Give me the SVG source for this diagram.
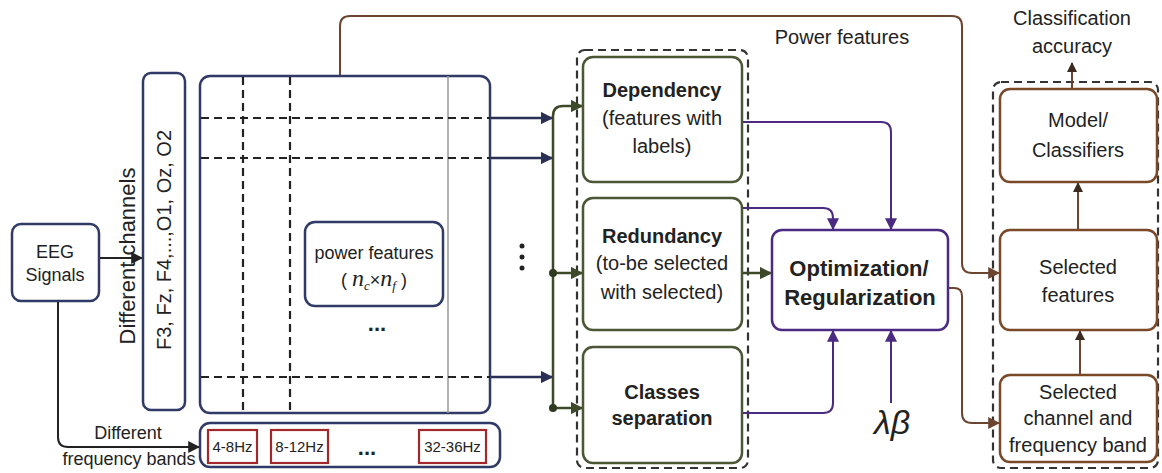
<svg xmlns="http://www.w3.org/2000/svg" width="1162" height="473" viewBox="0 0 1162 473">
<defs>
<style>
text{font-family:"Liberation Sans",Arial,sans-serif;fill:#222;text-anchor:middle}
.b{font-weight:bold}
.navy{fill:#fff;stroke:#2f3a66;stroke-width:2.5}
.green{fill:#fff;stroke:#4a5634;stroke-width:2.5}
.purple{fill:#fff;stroke:#4b2a82;stroke-width:2.5}
.brown{fill:#fff;stroke:#7a4a28;stroke-width:2.5}
.red{fill:#fff;stroke:#a3282c;stroke-width:2.2}
.grp{fill:none;stroke:#333;stroke-width:2.2;stroke-dasharray:8 5}
.dash{fill:none;stroke:#222;stroke-width:2.2;stroke-dasharray:8 5}
.cn{fill:none;stroke:#2a2f55;stroke-width:2.5}
.cg{fill:none;stroke:#3d4a2a;stroke-width:2.5}
.cp{fill:none;stroke:#4b2a82;stroke-width:2}
.cb{fill:none;stroke:#6b4530;stroke-width:2}
.ck{fill:none;stroke:#222;stroke-width:2}
</style>
<marker id="an" viewBox="0 0 10 10" refX="9" refY="5" markerWidth="5" markerHeight="5" orient="auto"><path d="M0,0L10,5L0,10z" fill="#2a2f55"/></marker>
<marker id="ag" viewBox="0 0 10 10" refX="9" refY="5" markerWidth="5" markerHeight="5" orient="auto"><path d="M0,0L10,5L0,10z" fill="#3d4a2a"/></marker>
<marker id="ap" viewBox="0 0 10 10" refX="9" refY="5" markerWidth="6" markerHeight="6" orient="auto"><path d="M0,0L10,5L0,10z" fill="#4b2a82"/></marker>
<marker id="ab" viewBox="0 0 10 10" refX="9" refY="5" markerWidth="6" markerHeight="6" orient="auto"><path d="M0,0L10,5L0,10z" fill="#6b4530"/></marker>
<marker id="ak" viewBox="0 0 10 10" refX="9" refY="5" markerWidth="6" markerHeight="6" orient="auto"><path d="M0,0L10,5L0,10z" fill="#222"/></marker>
<marker id="ad" viewBox="0 0 10 10" refX="9" refY="5" markerWidth="5" markerHeight="5" orient="auto"><path d="M0,0L10,5L0,10z" fill="#3a2a20"/></marker>
</defs>
<rect width="1162" height="473" fill="#fff"/>

<g id="groups">
<rect class="grp" x="577" y="50" width="171" height="418" rx="8"/>
<rect class="grp" x="993" y="82" width="165" height="386" rx="8"/>
</g>

<g id="connectors">
<path class="ck" d="M99,258H142" marker-end="url(#ak)"/>
<path class="ck" d="M58,301V437Q58,447 68,447H199" marker-end="url(#ak)"/>
<path class="cn" d="M490,118H552" marker-end="url(#an)"/>
<path class="cn" d="M490,158H552" marker-end="url(#an)"/>
<path class="cn" d="M490,377H552" marker-end="url(#an)"/>
<path class="cg" d="M553,408V116Q553,106 563,106H582" marker-end="url(#ag)"/>
<path class="cg" d="M553,273H582" marker-end="url(#ag)"/>
<path class="cg" d="M553,408H582" marker-end="url(#ag)"/>
<circle cx="553" cy="273" r="4" fill="#2f3a20"/>
<circle cx="553" cy="408" r="4" fill="#2f3a20"/>
<path class="cg" d="M742,273H771" stroke-width="3" marker-end="url(#ag)"/>
<path class="cp" d="M742,122H881Q891,122 891,132V229" marker-end="url(#ap)"/>
<path class="cp" d="M742,208H823Q833,208 833,218V229" marker-end="url(#ap)"/>
<path class="cp" d="M742,413H823Q833,413 833,403V331" marker-end="url(#ap)"/>
<path class="cp" d="M891,403V331" marker-end="url(#ap)"/>
<path class="cb" d="M340,76V26Q340,16 350,16H952Q962,16 962,26V263Q962,273 972,273H999" marker-end="url(#ab)"/>
<path class="cb" d="M948,288H954Q962,288 962,296V413Q962,423 972,423H999" marker-end="url(#ab)"/>
<path class="cb" d="M1080,375V331" stroke="#3a2a20" stroke-width="3" marker-end="url(#ad)"/>
<path class="cb" d="M1078,230V183" stroke="#3a2a20" stroke-width="3" marker-end="url(#ad)"/>
<path class="cb" d="M1072,89V63" stroke="#3a2a20" stroke-width="3" marker-end="url(#ad)"/>
</g>

<g id="eeg">
<rect class="navy" x="12" y="224" width="87" height="77" rx="9"/>
<text x="55" y="258" font-size="18">EEG</text>
<text x="55" y="281" font-size="18">Signals</text>
</g>

<g id="channels-label">
<text transform="translate(135,256) rotate(-90)" font-size="22">Different channels</text>
</g>

<g id="channels">
<rect class="navy" x="143" y="73" width="42" height="337" rx="8"/>
<text transform="translate(171,240) rotate(-90)" font-size="20">F3, Fz, F4,...,O1, Oz, O2</text>
</g>

<g id="matrix">
<rect class="navy" x="200" y="76" width="290" height="337" rx="10"/>
<line x1="448" y1="76" x2="448" y2="413" stroke="#999" stroke-width="1.5"/>
<line class="dash" x1="243" y1="77" x2="243" y2="412"/>
<line class="dash" x1="290" y1="77" x2="290" y2="412"/>
<line class="dash" x1="201" y1="118" x2="490" y2="118"/>
<line class="dash" x1="201" y1="158" x2="490" y2="158"/>
<line class="dash" x1="201" y1="377" x2="490" y2="377"/>
<text x="377" y="331" font-size="22" font-weight="bold">...</text>
</g>

<g id="power-features">
<rect class="navy" x="305" y="222" width="138" height="84" rx="10"/>
<text x="374" y="259" font-size="18">power features</text>
<text x="374" y="286" font-size="18">( <tspan font-family="Liberation Serif,serif" font-style="italic" font-size="24">n</tspan><tspan font-family="Liberation Serif,serif" font-style="italic" font-size="13" dy="4">c</tspan><tspan dy="-4">×</tspan><tspan font-family="Liberation Serif,serif" font-style="italic" font-size="24">n</tspan><tspan font-family="Liberation Serif,serif" font-style="italic" font-size="13" dy="4">f</tspan><tspan dy="-4"> )</tspan></text>
</g>

<g id="vdots">
<circle cx="522" cy="246" r="2.5" fill="#222"/>
<circle cx="522" cy="257" r="2.5" fill="#222"/>
<circle cx="522" cy="268" r="2.5" fill="#222"/>
</g>

<g id="freq-label">
<text x="128" y="439" font-size="18">Different</text>
<text x="129" y="465" font-size="18">frequency bands</text>
</g>

<g id="bands">
<rect class="navy" x="200" y="423" width="300" height="44" rx="10"/>
<rect class="red" x="208" y="430" width="49" height="33"/>
<text x="232.5" y="452" font-size="15">4-8Hz</text>
<rect class="red" x="271" y="430" width="57" height="33"/>
<text x="299.5" y="452" font-size="15">8-12Hz</text>
<text x="367" y="455" font-size="22" font-weight="bold">...</text>
<rect class="red" x="419" y="430" width="67" height="33"/>
<text x="452.5" y="452" font-size="15">32-36Hz</text>
</g>

<g id="dependency">
<rect class="green" x="583" y="57" width="159" height="125" rx="10"/>
<text x="662" y="97" font-size="20" class="b">Dependency</text>
<text x="662" y="125" font-size="20">(features with</text>
<text x="662" y="153" font-size="20">labels)</text>
</g>

<g id="redundancy">
<rect class="green" x="583" y="198" width="159" height="132" rx="10"/>
<text x="662" y="243" font-size="20" class="b">Redundancy</text>
<text x="662" y="270" font-size="20">(to-be selected</text>
<text x="662" y="299" font-size="20">with selected)</text>
</g>

<g id="classes">
<rect class="green" x="583" y="347" width="159" height="116" rx="10"/>
<text x="662" y="399" font-size="20" class="b">Classes</text>
<text x="662" y="425" font-size="20" class="b">separation</text>
</g>

<g id="optimization">
<rect class="purple" x="772" y="230" width="176" height="100" rx="10"/>
<text x="859" y="276" font-size="22" class="b">Optimization/</text>
<text x="860" y="305" font-size="22" class="b">Regularization</text>
</g>

<g id="lambda-beta">
<text x="892" y="434" font-size="34" font-family="Liberation Serif,serif" font-style="italic">λβ</text>
</g>

<g id="power-features-label">
<text x="842" y="44" font-size="20">Power features</text>
</g>

<g id="accuracy">
<text x="1072" y="25" font-size="20">Classification</text>
<text x="1072" y="53" font-size="20">accuracy</text>
</g>

<g id="model">
<rect class="brown" x="1000" y="89" width="157" height="93" rx="10"/>
<text x="1078" y="127" font-size="20">Model/</text>
<text x="1078" y="157" font-size="20">Classifiers</text>
</g>

<g id="selected-features">
<rect class="brown" x="1000" y="230" width="157" height="100" rx="10"/>
<text x="1078" y="274" font-size="20">Selected</text>
<text x="1078" y="302" font-size="20">features</text>
</g>

<g id="selected-channel">
<rect class="brown" x="1000" y="375" width="157" height="87" rx="10"/>
<text x="1078" y="399" font-size="20">Selected</text>
<text x="1078" y="425" font-size="20">channel and</text>
<text x="1078" y="452" font-size="20">frequency band</text>
</g>
</svg>
